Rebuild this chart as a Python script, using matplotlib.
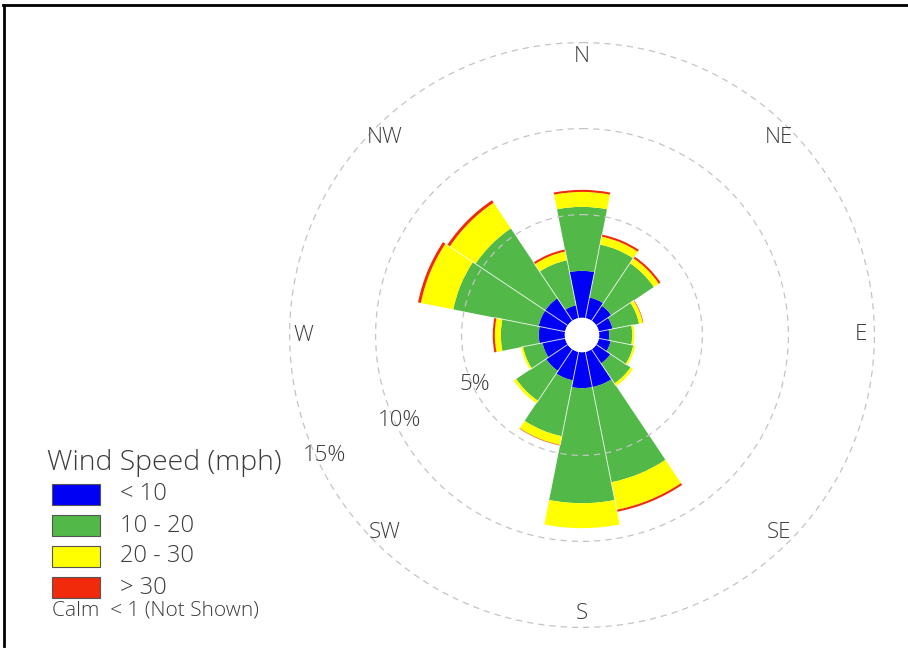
import numpy as np
import matplotlib
matplotlib.use("Agg")
import matplotlib.pyplot as plt
from matplotlib.patches import Rectangle
from matplotlib.lines import Line2D

# --- wind frequency (% of hours) per direction and speed class ---
directions = ["N", "NNE", "NE", "ENE", "E", "ESE", "SE", "SSE",
              "S", "SSW", "SW", "WSW", "W", "WNW", "NW", "NNW"]
speed_lt10 = [2.73, 1.22, 1.05, 0.81, 0.58, 0.70, 0.99, 2.09,
              2.09, 1.69, 1.51, 1.34, 1.51, 1.57, 1.57, 0.76]
speed_10_20 = [3.72, 3.14, 2.97, 1.57, 1.34, 1.34, 1.40, 5.64,
               6.69, 3.31, 2.09, 1.16, 2.21, 5.06, 4.88, 2.67]
speed_20_30 = [0.87, 0.47, 0.35, 0.23, 0.12, 0.12, 0.17, 1.63,
               1.45, 0.52, 0.17, 0.12, 0.35, 1.92, 1.80, 0.52]
speed_gt30 = [0.12, 0.12, 0.12, 0.03, 0.00, 0.00, 0.00, 0.12,
              0.00, 0.03, 0.00, 0.00, 0.12, 0.17, 0.17, 0.12]

speed_labels = ["< 10", "10 - 20", "20 - 30", "> 30"]
speed_colors = ["#0000f5", "#52b848", "#ffff00", "#f02a0a"]
ring_values = [5, 10, 15]
ring_labels = ["5%", "10%", "15%"]
compass_labels = ["N", "NE", "E", "SE", "S", "SW", "W", "NW"]
calm_note = "Calm  < 1 (Not Shown)"
legend_title = "Wind Speed (mph)"

calm_base = -1.0   # bars start at the edge of the calm circle

FONT = ["Open Sans", "DejaVu Sans"]
TXT = "#3c3c3c"
WEIGHT = "light"

W, H = 908, 656
fig = plt.figure(figsize=(W / 100, H / 100), dpi=100)
fig.patch.set_facecolor("white")


def fx(px):
    return px / W


def fy(py):
    return 1 - py / H


# polar axes centred on the rose
cx, cy, half = 582, 335, 301
ax = fig.add_axes([fx(cx - half), fy(cy + half), 2 * half / W, 2 * half / H],
                  projection="polar")
ax.set_theta_zero_location("N")
ax.set_theta_direction(-1)
ax.set_rorigin(-2.0)
ax.set_ylim(calm_base, 15.5)
ax.set_axis_off()

n = len(directions)
theta = np.arange(n) * 2 * np.pi / n
width = 2 * np.pi / n

series = [speed_lt10, speed_10_20, speed_20_30, speed_gt30]
bottom = np.full(n, calm_base)
for vals, col in zip(series, speed_colors):
    vals = np.asarray(vals)
    ax.bar(theta, vals, width=width, bottom=bottom, color=col,
           edgecolor="none", linewidth=0, zorder=2, align="center")
    bottom = bottom + vals

# thin white dividers between neighbouring sectors
totals = bottom
for i in range(n):
    ang = theta[i] - width / 2
    reach = min(totals[i], totals[i - 1])
    ax.plot([ang, ang], [calm_base, reach], color="white", lw=0.7,
            alpha=0.75, zorder=3, solid_capstyle="butt")

# dashed percentage rings
circ = np.linspace(0, 2 * np.pi, 721)
for rv in ring_values:
    ax.plot(circ, np.full_like(circ, rv), color="#c4c4c4", lw=0.9,
            ls=(0, (5, 4)), zorder=4)

for rv, lab in zip(ring_values, ring_labels):
    ax.text(np.deg2rad(245), rv * 0.97, lab, ha="center", va="center",
            fontsize=16, color=TXT, family=FONT, fontweight=WEIGHT, zorder=5)

for k, lab in enumerate(compass_labels):
    ax.text(np.deg2rad(45 * k), 14.2, lab, ha="center", va="center",
            fontsize=16, color=TXT, family=FONT, fontweight=WEIGHT, zorder=5)

# legend
fig.text(fx(47), fy(463), legend_title, ha="left", va="center",
         fontsize=20.5, color=TXT, family=FONT, fontweight=WEIGHT)
top0, step = 484, 31
for i, (lab, col) in enumerate(zip(speed_labels, speed_colors)):
    t = top0 + i * step
    fig.add_artist(Rectangle((fx(52), fy(t + 21)), 48 / W, 21 / H,
                             transform=fig.transFigure, facecolor=col,
                             edgecolor="#555555", linewidth=0.8))
    fig.text(fx(120), fy(t + 10.5), lab, ha="left", va="center",
             fontsize=17, color=TXT, family=FONT, fontweight=WEIGHT)
fig.text(fx(52), fy(610), calm_note, ha="left", va="center",
         fontsize=15, color=TXT, family=FONT, fontweight=WEIGHT)

# frame lines along the top and left edge
fig.add_artist(Line2D([fx(3), 1], [fy(5), fy(5)], color="black", lw=2,
                      transform=fig.transFigure))
fig.add_artist(Line2D([fx(4), fx(4)], [fy(5), fy(646)], color="black", lw=2,
                      transform=fig.transFigure))

fig.savefig("out.png", dpi=100, facecolor="white")
